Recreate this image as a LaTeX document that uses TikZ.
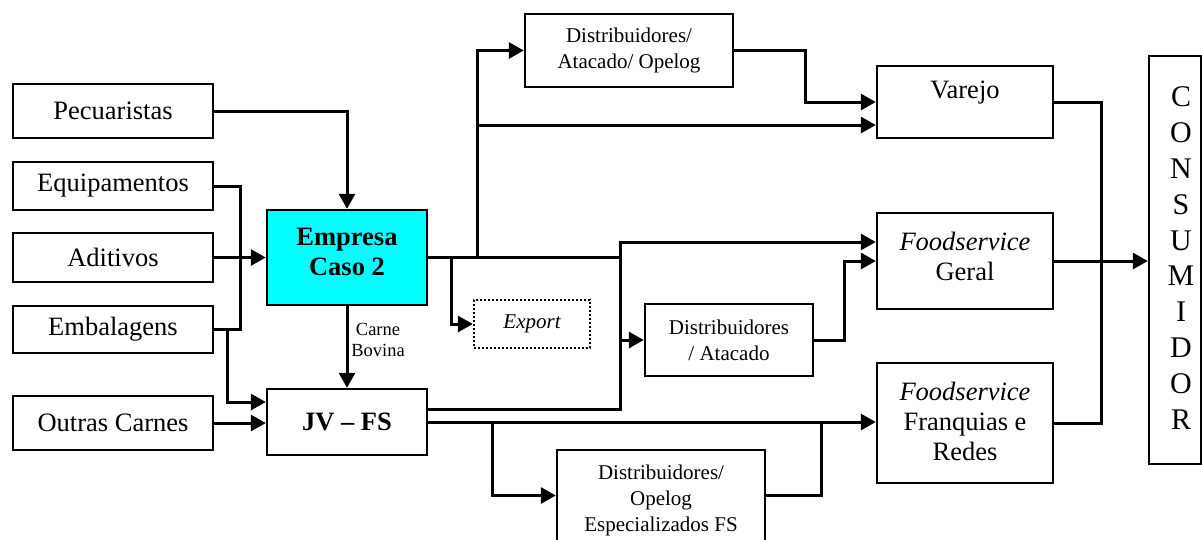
\documentclass[tikz,border=0pt]{standalone}
\usepackage{fontspec}
\setmainfont{Liberation Serif}
\usetikzlibrary{arrows.meta,calc}
\definecolor{aqua}{RGB}{0,255,255}
\newcommand{\bigtxt}{\fontsize{26.5}{30}\selectfont}
\newcommand{\midtxt}{\fontsize{21}{26}\selectfont}
\newcommand{\smalltxt}{\fontsize{18.5}{21}\selectfont}
\begin{document}
\begin{tikzpicture}[x=1pt,y=-1pt,
  box/.style={draw, line width=2.4pt, align=center, inner sep=0pt, font=\bigtxt},
  conn/.style={line width=3pt},
  arr/.style={conn, -{Triangle[length=15pt,width=16pt]}},
  txt/.style={align=center, inner sep=0pt}]
\useasboundingbox (0,0) rectangle (1202,539);
% left column
\node[box, minimum width=200pt, minimum height=54pt] (pec) at (113,111) {Pecuaristas};
\node[box, minimum width=200pt, minimum height=48pt] (equ) at (113,186) {Equipamentos};
\node[box, minimum width=200pt, minimum height=49pt] (adi) at (113,257.5) {Aditivos};
\node[box, minimum width=200pt, minimum height=47pt] (emb) at (113,329.5) {Embalagens};
\node[box, minimum width=200pt, minimum height=54pt] (out) at (113,423) {Outras Carnes};
% company
\node[box, fill=aqua, minimum width=160pt, minimum height=95pt] (emp) at (347,257.5) {};
\node[txt, font=\bigtxt\bfseries] (empt) at (347,252) {Empresa\\Caso 2};
\node[box, minimum width=160pt, minimum height=66pt, font=\bigtxt\bfseries] (jv) at (347,422) {JV -- FS};
\node[txt, font=\smalltxt] (cb) at (378,340) {Carne\\Bovina};
% middle
\node[box, minimum width=208pt, minimum height=73pt, font=\midtxt] (dtop) at (629,50.5) {Distribuidores/\\Atacado/ Opelog};
\node[box, dash pattern=on 2pt off 2pt, minimum width=116pt, minimum height=48pt, font=\midtxt\itshape] (exp) at (532,324) {Export};
\node[box, minimum width=168pt, minimum height=72pt, font=\midtxt] (dat) at (729,340) {Distribuidores\\/ Atacado};
\node[box, minimum width=208pt, minimum height=91pt] (dop) at (661,495.5) {};
\node[txt, font=\midtxt] (dopt) at (661,500) {Distribuidores/\\Opelog\\Especializados FS};
% right
\node[box, minimum width=176pt, minimum height=72pt] (var) at (965,102) {};
\node[txt, font=\bigtxt] (vart) at (965,93) {Varejo};
\node[box, minimum width=176pt, minimum height=96pt] (fsg) at (965,261) {};
\node[txt, font=\bigtxt] (fsgt) at (965,256) {\textit{Foodservice}\\Geral};
\node[box, minimum width=176pt, minimum height=120pt] (fsf) at (965,423) {};
\node[txt, font=\bigtxt] (fsft) at (965,421) {\textit{Foodservice}\\Franquias e\\Redes};
\node[box, minimum width=52pt, minimum height=408pt] (con) at (1175,260) {};
\node[txt, font=\fontsize{30}{35.8}\selectfont] (cont) at (1181,258) {C\\O\\N\\S\\U\\M\\I\\D\\O\\R};
% junctions
\coordinate (j1) at (240,329.5);
\coordinate (j2) at (227,329.5);
\coordinate (j3) at (620,257.5);
\coordinate (j4) at (477,257.5);
\coordinate (j5) at (477,125);
\coordinate (j6) at (451,257.5);
\coordinate (j7) at (620,340);
\coordinate (jv3) at (620,300);
\coordinate (j8) at (492,422);
\coordinate (j9) at (821,422);
\coordinate (j10) at (805,80);
\coordinate (j11) at (844,300);
\coordinate (j12) at (1101,260);
% connectors
\draw[arr] (pec.east) -| (emp.north);
\draw[conn] (equ.east) -| (j1) -- (emb.east);
\draw[arr] (adi.east) -- (emp.west);
\draw[arr] (j2) |- ($(jv.west)+(0,-20)$);
\draw[arr] (out.east) -- (out.east -| jv.west);
\draw[arr] (emp.south) -- (jv.north);
\draw[conn] (emp.east) -- (j3);
\draw[arr] (j4) |- (dtop.west);
\draw[arr] (j5) -- ($(var.west)+(0,23)$);
\draw[arr] (j6) |- (exp.west);
\draw[arr] ($(jv.east)+(0,-13)$) -| (jv3) |- ($(fsg.west)+(0,-19)$);
\draw[arr] (j7) -- (j7 -| dat.west);
\draw[arr] (jv.east) -- (jv.east -| fsf.west);
\draw[arr] (j8) |- (dop.west);
\draw[conn] (dop.east) -| (j9);
\draw[arr] (dtop.east) -| (j10) |- (var.west);
\draw[arr] (dat.east) -| (j11) |- (fsg.west);
\draw[conn] (var.east) -| (j12) |- (fsf.east);
\draw[arr] (fsg.east) -- (fsg.east -| con.west);
\end{tikzpicture}
\end{document}
